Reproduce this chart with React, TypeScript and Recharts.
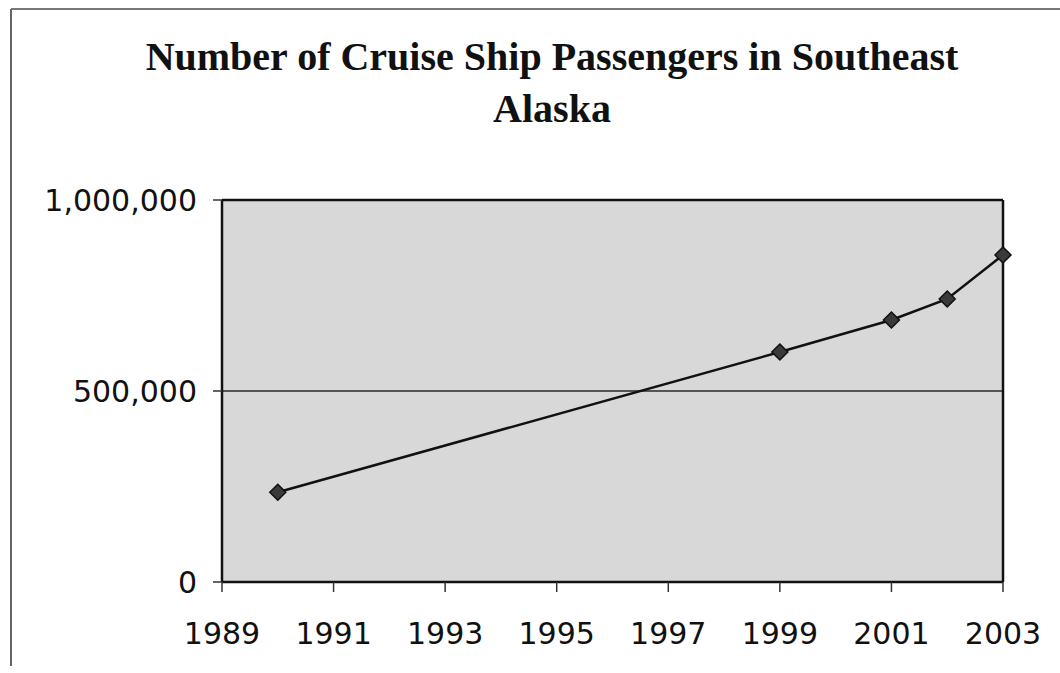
import React from "react";
import {
  LineChart,
  Line,
  XAxis,
  YAxis,
  CartesianGrid,
  ReferenceLine,
} from "recharts";

const years = [1990, 1999, 2001, 2002, 2003];
const passengers = [235000, 602000, 686000, 741000, 856000];
const xTicks = [1989, 1991, 1993, 1995, 1997, 1999, 2001, 2003];
const yTicks = [0, 500000, 1000000];
const titleLines = ["Number of Cruise Ship Passengers in Southeast", "Alaska"];

const data = years.map((y, i) => ({ year: y, value: passengers[i] }));

const fmt = (v: number) => v.toLocaleString("en-US");

const Diamond = (props: any) => {
  const { cx, cy } = props;
  if (cx == null || cy == null) return null;
  const r = 8;
  return (
    <path
      d={`M${cx},${cy - r} L${cx + r},${cy} L${cx},${cy + r} L${cx - r},${cy} Z`}
      fill="#3a3a3a"
      stroke="#111"
      strokeWidth={1.5}
    />
  );
};

export default function App() {
  return (
    <div
      style={{
        position: "absolute",
        left: 0,
        top: 0,
        width: 1060,
        height: 673,
        background: "#fff",
        overflow: "hidden",
      }}
    >
      <svg
        width={1060}
        height={673}
        style={{ position: "absolute", left: 0, top: 0 }}
      >
        <line x1={11} y1={9} x2={1060} y2={9} stroke="#777" strokeWidth={2} />
        <line x1={11} y1={9} x2={11} y2={666} stroke="#666" strokeWidth={2} />
        {titleLines.map((t, i) => (
          <text
            key={i}
            x={552}
            y={70 + i * 52}
            textAnchor="middle"
            fontFamily="'Liberation Serif', 'Times New Roman', serif"
            fontWeight="bold"
            fontSize={40}
            fill="#111"
          >
            {t}
          </text>
        ))}
      </svg>
      <div style={{ position: "absolute", left: 0, top: 0 }}>
        <LineChart
          width={1060}
          height={673}
          data={data}
          margin={{ top: 200, right: 57, left: 0, bottom: 0 }}
        >
          <CartesianGrid
            vertical={false}
            fill="#d8d8d8"
            fillOpacity={1}
            stroke="#555"
            strokeWidth={2}
          />
          <XAxis
            dataKey="year"
            type="number"
            domain={[1989, 2003]}
            ticks={xTicks}
            interval={0}
            height={91}
            tickSize={10}
            tickMargin={31}
            axisLine={{ stroke: "#111", strokeWidth: 2.5 }}
            tickLine={{ stroke: "#333", strokeWidth: 1.5 }}
            tick={{
              fill: "#111",
              fontSize: 30,
              fontFamily: "'DejaVu Sans', Verdana, sans-serif",
            }}
          />
          <YAxis
            type="number"
            domain={[0, 1000000]}
            ticks={yTicks}
            width={222}
            tickSize={9}
            tickMargin={16}
            tickFormatter={fmt}
            axisLine={{ stroke: "#111", strokeWidth: 2.5 }}
            tickLine={{ stroke: "#333", strokeWidth: 1.5 }}
            tick={{
              fill: "#111",
              fontSize: 30,
              fontFamily: "'DejaVu Sans', Verdana, sans-serif",
            }}
          />
          <ReferenceLine y={1000000} stroke="#111" strokeWidth={2.5} />
          <ReferenceLine x={2003} stroke="#111" strokeWidth={2.5} />
          <Line
            type="linear"
            dataKey="value"
            stroke="#111"
            strokeWidth={2.5}
            dot={<Diamond />}
            activeDot={false}
            isAnimationActive={false}
          />
        </LineChart>
      </div>
    </div>
  );
}
